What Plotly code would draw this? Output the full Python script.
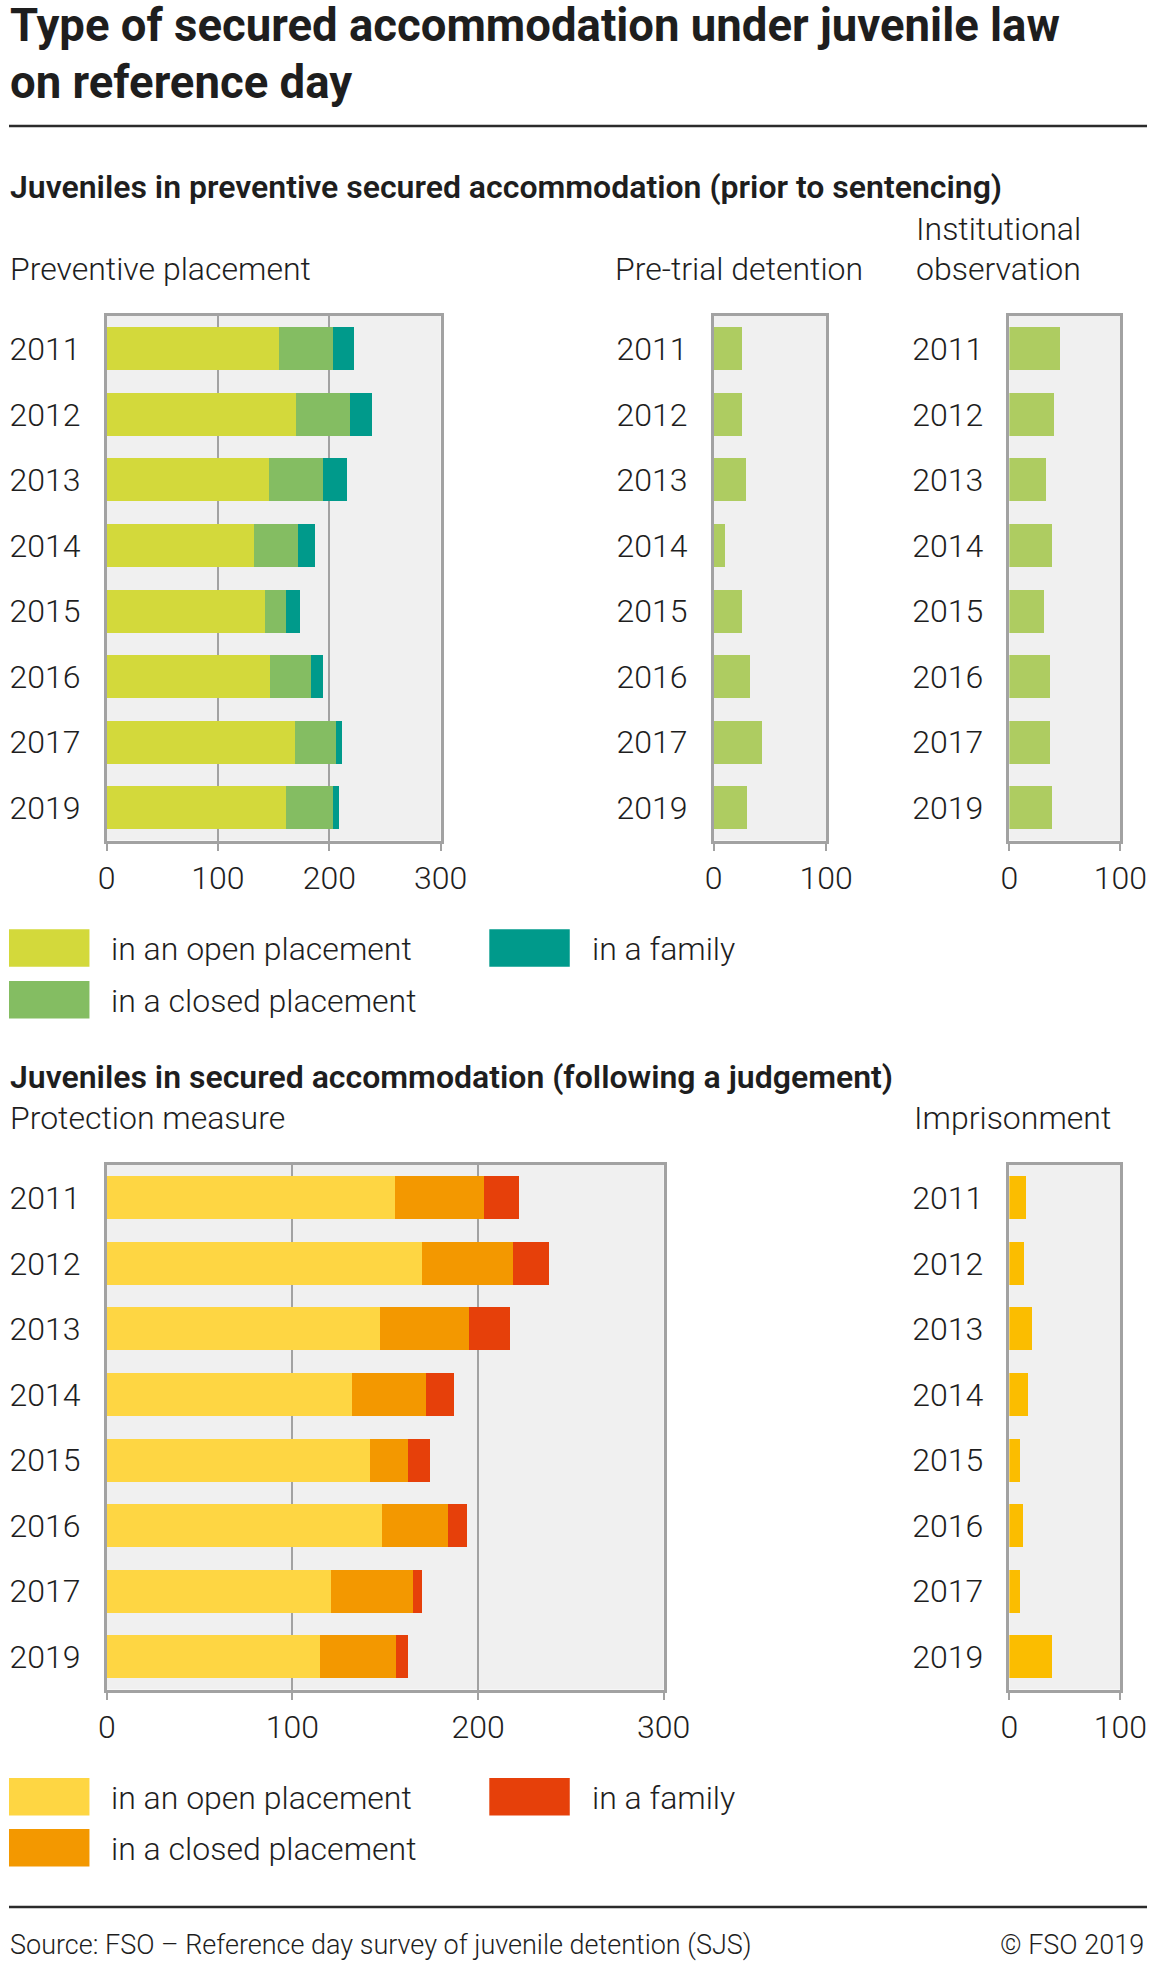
import plotly.graph_objects as go

# ---------------- data ----------------
years = ["2011", "2012", "2013", "2014", "2015", "2016", "2017", "2019"]

prev_open = [155, 170, 146, 132, 142, 147, 169, 161]
prev_closed = [48, 49, 48, 40, 19, 37, 37, 42]
prev_family = [19, 19, 22, 15, 13, 10, 5, 6]

pretrial = [25, 25, 29, 10, 25, 32, 43, 30]
inst_obs = [46, 40, 33, 38, 31, 37, 37, 38]

prot_open = [155, 170, 147, 132, 142, 148, 121, 115]
prot_closed = [48, 49, 48, 40, 20, 36, 44, 41]
prot_family = [19, 19, 22, 15, 12, 10, 5, 6]

imprison = [15, 13, 20, 17, 10, 12, 10, 38]

legend_labels = ["in an open placement", "in a closed placement", "in a family"]

# ---------------- styling ----------------
W, H = 1174, 1962
FONT = "Roboto"
TXT = "#1e1e1e"
AX = "#a2a2a2"
BG = "#f0f0f0"

C_OPEN1, C_CLOSED1, C_FAM1 = "#d3d93b", "#84bd62", "#009a8b"
C_SINGLE1 = "#aecc61"
C_OPEN2, C_CLOSED2, C_FAM2 = "#fed643", "#f39800", "#e6400a"
C_SINGLE2 = "#fbbd00"


def px(x):
    return x / W


def py(y):
    return 1 - y / H


fig = go.Figure()

panels = [
    # (axis id, x0, x1, y0, y1, range max, tickvals)
    ("1", 100.7, 445.3, 316, 840.5, 300, [0, 100, 200, 300]),
    ("2", 727, 843, 316, 840.5, 100, [0, 100]),
    ("3", 1032, 1146.5, 316, 840.5, 100, [0, 100]),
    ("4", 100.9, 675.4, 1165, 1689.5, 300, [0, 100, 200, 300]),
    ("5", 1032, 1146.5, 1165, 1689.5, 100, [0, 100]),
]


def add_bar(axid, values, color, name):
    fig.add_trace(go.Bar(
        y=years, x=values, orientation="h", name=name,
        marker=dict(color=color, line=dict(width=0)),
        xaxis="x" + ("" if axid == "1" else axid),
        yaxis="y" + ("" if axid == "1" else axid),
        showlegend=False,
    ))


add_bar("1", prev_open, C_OPEN1, legend_labels[0])
add_bar("1", prev_closed, C_CLOSED1, legend_labels[1])
add_bar("1", prev_family, C_FAM1, legend_labels[2])
add_bar("2", pretrial, C_SINGLE1, "Pre-trial detention")
add_bar("3", inst_obs, C_SINGLE1, "Institutional observation")
add_bar("4", prot_open, C_OPEN2, legend_labels[0])
add_bar("4", prot_closed, C_CLOSED2, legend_labels[1])
add_bar("4", prot_family, C_FAM2, legend_labels[2])
add_bar("5", imprison, C_SINGLE2, "Imprisonment")

layout = dict(
    width=W, height=H,
    autosize=False,
    margin=dict(l=0, r=0, t=0, b=0, pad=0),
    paper_bgcolor="white",
    plot_bgcolor=BG,
    barmode="stack",
    bargap=0.345,
    showlegend=False,
    font=dict(family=FONT, color=TXT),
)

tickfont = dict(family=FONT, size=32, color=TXT, weight=300)

for axid, x0, x1, y0, y1, rmax, tv in panels:
    xa = "xaxis" + ("" if axid == "1" else axid)
    ya = "yaxis" + ("" if axid == "1" else axid)
    layout[xa] = dict(
        domain=[px(x0), px(x1)], range=[0, rmax],
        anchor="y" + ("" if axid == "1" else axid),
        tickvals=tv, ticktext=[str(v) for v in tv],
        showgrid=True, gridcolor=AX, gridwidth=2.2,
        zeroline=False,
        showline=True, linecolor=AX, linewidth=2.6, mirror=True,
        ticks="outside", ticklen=8, tickwidth=2, tickcolor=AX,
        tickfont=tickfont, ticklabelstandoff=-1,
        fixedrange=True,
    )
    layout[ya] = dict(
        domain=[py(y1), py(y0)],
        anchor="x" + ("" if axid == "1" else axid),
        type="category", categoryorder="array", categoryarray=years,
        autorange="reversed",
        showgrid=False, zeroline=False,
        showline=True, linecolor=AX, linewidth=2.6, mirror=True,
        ticks="", tickfont=tickfont, ticklabelstandoff=17,
        fixedrange=True,
    )

fig.update_layout(**layout)

annotations = []


def txt(x, baseline, text, size, weight=300, anchor="left"):
    annotations.append(dict(
        xref="paper", yref="paper", x=px(x), y=py(baseline - 0.342 * size),
        xanchor=anchor, yanchor="middle", showarrow=False, text=text,
        font=dict(family=FONT, size=size, color=TXT, weight=weight),
        borderpad=0,
    ))


# Titles
txt(0, 41, "Type of secured accommodation under juvenile law", 45.5, 700)
txt(0, 98, "on reference day", 45.5, 700)
txt(0, 198, "Juveniles in preventive secured accommodation (prior to sentencing)", 32, 600)
txt(0, 280, "Preventive placement", 32)
txt(624, 280, "Pre-trial detention", 32)
txt(935, 240, "Institutional", 32)
txt(935, 280, "observation", 32)
txt(0, 1088, "Juveniles in secured accommodation (following a judgement)", 32, 600)
txt(0, 1129, "Protection measure", 32)
txt(933, 1129, "Imprisonment", 32)

# Footer
txt(0, 1954, "Source: FSO – Reference day survey of juvenile detention (SJS)", 27)
txt(1172, 1954, "© FSO 2019", 27, 300, "right")

shapes = []
# separators
shapes.append(dict(type="line", xref="paper", yref="paper", x0=0, x1=1,
                   y0=py(126), y1=py(126), line=dict(color="#2b2b2b", width=2.6)))
shapes.append(dict(type="line", xref="paper", yref="paper", x0=0, x1=1,
                   y0=py(1907), y1=py(1907), line=dict(color="#2b2b2b", width=2.6)))


def legend_block(top_row1, top_row2, colors):
    # colors: open, closed, family
    entries = [
        (0, top_row1, colors[0], legend_labels[0], 104),
        (0, top_row2, colors[1], legend_labels[1], 104),
        (495.5, top_row1, colors[2], legend_labels[2], 600),
    ]
    for x0, top, col, lab, tx in entries:
        shapes.append(dict(type="rect", xref="paper", yref="paper",
                           x0=px(x0), x1=px(x0 + 83), y0=py(top + 37.5), y1=py(top),
                           fillcolor=col, line=dict(width=0)))
        txt(tx, top + 31, lab, 32)


legend_block(929.3, 981, [C_OPEN1, C_CLOSED1, C_FAM1])
legend_block(1778, 1829, [C_OPEN2, C_CLOSED2, C_FAM2])

fig.update_layout(annotations=annotations, shapes=shapes)

post = (
    "var d=document.documentElement,b=document.body;"
    "d.style.margin='0';d.style.padding='0';d.style.overflow='hidden';"
    "b.style.margin='0';b.style.padding='0';b.style.overflow='hidden';"
    "b.style.width='1174px';b.style.height='1962px';"
    "var g=document.getElementsByClassName('plotly-graph-div')[0];"
    "g.style.position='absolute';g.style.left='0px';g.style.top='0px';"
)

fig.write_html(
    "out.html",
    config={"responsive": False, "displayModeBar": False},
    post_script=post,
)
